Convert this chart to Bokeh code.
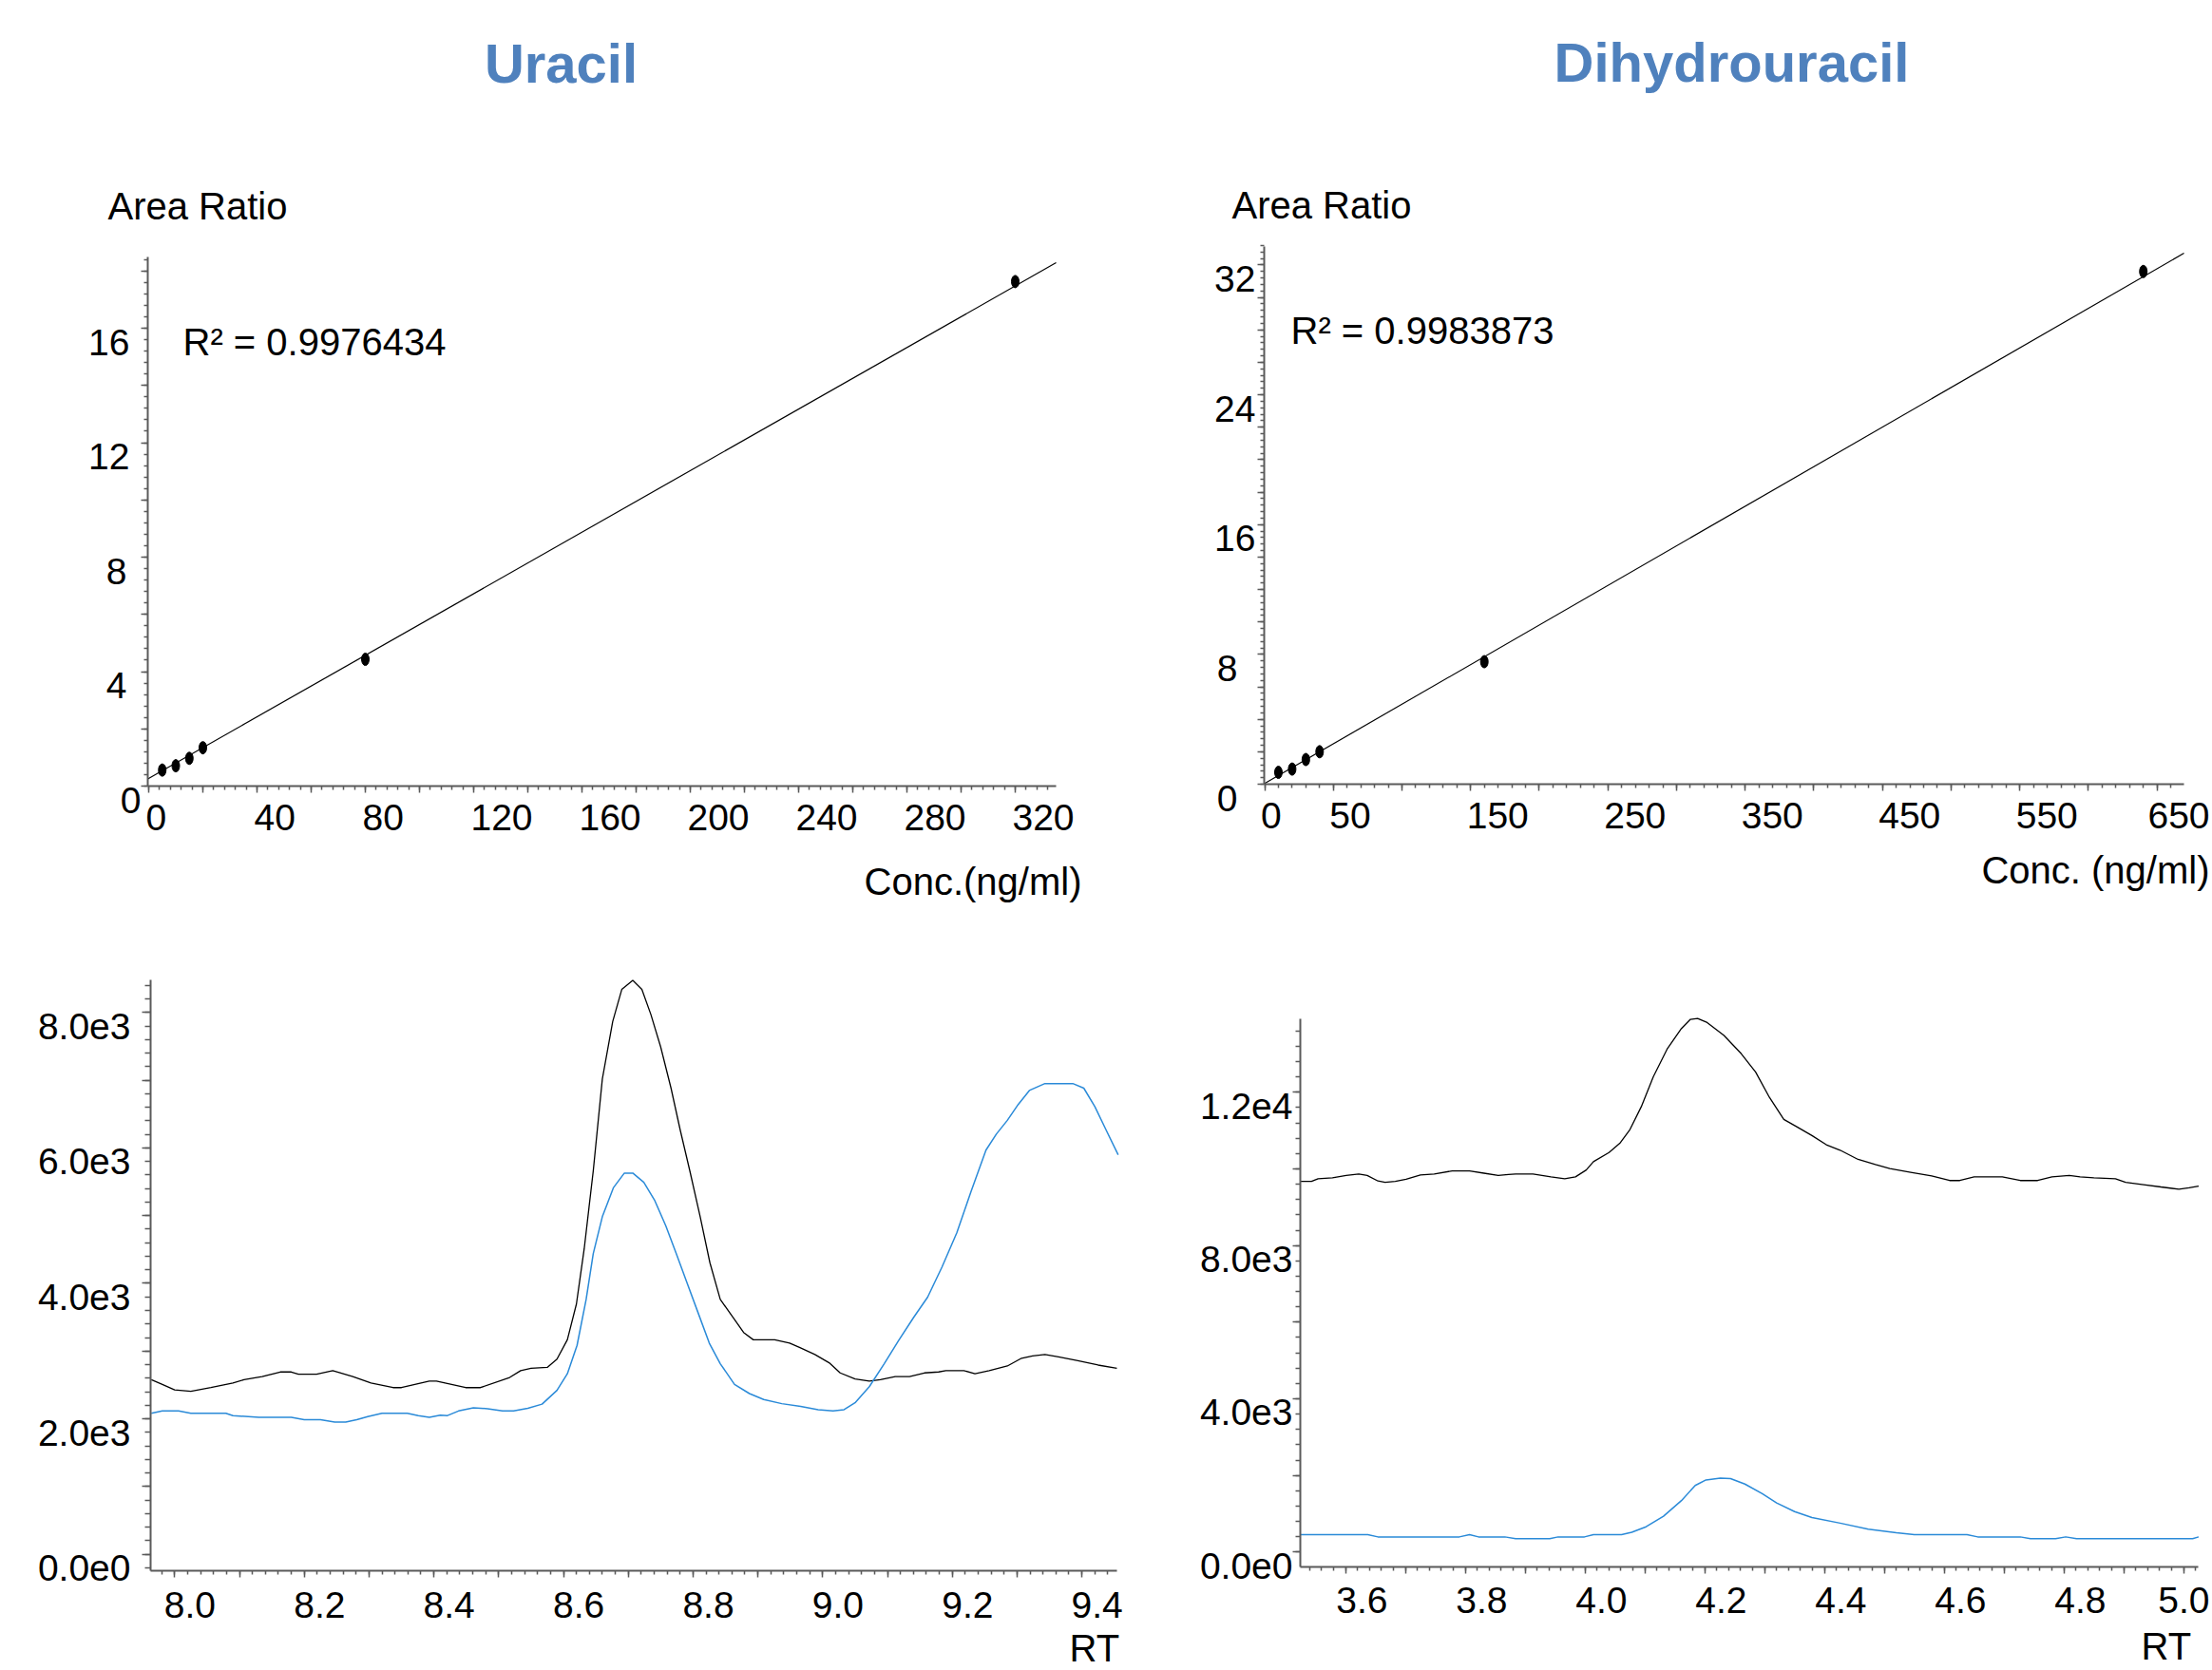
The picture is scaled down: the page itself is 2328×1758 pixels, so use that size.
import numpy as np
from bokeh.plotting import figure
from bokeh.models import Range1d, FixedTicker, LabelSet, ColumnDataSource
from bokeh.layouts import column, row
from bokeh.core.properties import value
from bokeh.embed import file_html
from bokeh.resources import INLINE

FONT = "Liberation Sans"
TITLE_BLUE = "#4F81BD"
TRACE_BLUE = "#2a8ad8"
AXIS_C = "#5a5a5a"

# ---------------- data ----------------
uracil_conc = [5, 10, 15, 20, 80, 320]
uracil_ratio = [0.56, 0.71, 0.97, 1.34, 4.43, 17.63]
uracil_slope, uracil_intercept = 0.05377, 0.27
uracil_r2 = "R² = 0.9976434"

dhu_conc = [10, 20, 30, 40, 160, 640]
dhu_ratio = [0.73, 0.93, 1.52, 2.00, 7.55, 31.6]
dhu_slope, dhu_intercept = 0.0488, 0.05
dhu_r2 = "R² = 0.9983873"

ura_conc_ticks = [0, 40, 80, 120, 160, 200, 240, 280, 320]
ura_ratio_ticks = [0, 4, 8, 12, 16]
dhu_conc_ticks = [0, 50, 150, 250, 350, 450, 550, 650]
dhu_ratio_ticks = [0, 8, 16, 24, 32]

ura_rt_ticks = [8.0, 8.2, 8.4, 8.6, 8.8, 9.0, 9.2, 9.4]
ura_int_ticks = [0, 2000, 4000, 6000, 8000]
ura_int_labels = ["0.0e0", "2.0e3", "4.0e3", "6.0e3", "8.0e3"]
dhu_rt_ticks = [3.6, 3.8, 4.0, 4.2, 4.4, 4.6, 4.8, 5.0]
dhu_int_ticks = [0, 4000, 8000, 12000]
dhu_int_labels = ["0.0e0", "4.0e3", "8.0e3", "1.2e4"]

# Uracil chromatogram (black trace and blue trace)
ura_black_rt = [7.964, 7.981, 8.000, 8.025, 8.056, 8.090, 8.107, 8.135, 8.163, 8.180,
                8.191, 8.219, 8.244, 8.275, 8.303, 8.337, 8.350, 8.393, 8.404, 8.449,
                8.472, 8.517, 8.534, 8.550, 8.575, 8.590, 8.606, 8.620, 8.632, 8.646,
                8.660, 8.676, 8.690, 8.707, 8.721, 8.735, 8.750, 8.766, 8.780, 8.795,
                8.811, 8.826, 8.842, 8.862, 8.878, 8.893, 8.926, 8.949, 8.965, 8.988,
                9.010, 9.027, 9.050, 9.072, 9.089, 9.112, 9.134, 9.157, 9.179, 9.190,
                9.218, 9.235, 9.257, 9.285, 9.307, 9.324, 9.343, 9.364, 9.392, 9.425,
                9.454]
ura_black_int = [2577, 2509, 2427, 2407, 2461, 2529, 2577, 2624, 2692, 2692,
                 2658, 2658, 2712, 2624, 2529, 2461, 2461, 2556, 2556, 2461,
                 2461, 2611, 2712, 2746, 2760, 2882, 3167, 3695, 4509, 5662,
                 7018, 7865, 8340, 8475, 8340, 7967, 7492, 6882, 6272, 5662,
                 4984, 4305, 3763, 3492, 3275, 3167, 3167, 3119, 3051, 2950,
                 2828, 2678, 2590, 2556, 2577, 2624, 2624, 2678, 2692, 2712,
                 2712, 2665, 2712, 2780, 2895, 2929, 2950, 2916, 2862, 2794,
                 2746]
ura_blue_rt = [7.964, 7.981, 8.006, 8.025, 8.079, 8.090, 8.130, 8.180, 8.200, 8.225,
               8.247, 8.264, 8.281, 8.298, 8.320, 8.359, 8.376, 8.393, 8.410, 8.421,
               8.438, 8.461, 8.483, 8.506, 8.523, 8.545, 8.567, 8.590, 8.606, 8.621,
               8.635, 8.646, 8.660, 8.677, 8.694, 8.707, 8.724, 8.741, 8.758, 8.774,
               8.791, 8.808, 8.825, 8.842, 8.864, 8.887, 8.909, 8.937, 8.966, 8.993,
               9.016, 9.033, 9.050, 9.072, 9.095, 9.117, 9.140, 9.162, 9.184, 9.207,
               9.229, 9.252, 9.268, 9.285, 9.302, 9.319, 9.343, 9.386, 9.403, 9.420,
               9.437, 9.456]
ura_blue_int = [2082, 2116, 2116, 2082, 2082, 2048, 2021, 2021, 1987, 1987,
                1953, 1953, 1987, 2034, 2082, 2082, 2048, 2021, 2055, 2048,
                2116, 2163, 2150, 2116, 2116, 2157, 2217, 2421, 2665, 3085,
                3763, 4441, 4984, 5411, 5628, 5628, 5492, 5221, 4848, 4441,
                4001, 3560, 3119, 2814, 2509, 2373, 2285, 2224, 2183, 2136,
                2116, 2136, 2238, 2475, 2814, 3153, 3492, 3797, 4238, 4746,
                5357, 5967, 6204, 6407, 6645, 6848, 6950, 6950, 6882, 6611,
                6272, 5899]

# Dihydrouracil chromatogram
dhu_black_rt = [3.525, 3.543, 3.554, 3.578, 3.601, 3.622, 3.636, 3.654, 3.666, 3.683,
                3.701, 3.725, 3.748, 3.778, 3.807, 3.831, 3.855, 3.872, 3.884, 3.913,
                3.943, 3.966, 3.984, 4.002, 4.014, 4.040, 4.058, 4.075, 4.094, 4.114,
                4.137, 4.161, 4.176, 4.188, 4.204, 4.232, 4.261, 4.285, 4.308, 4.332,
                4.355, 4.379, 4.403, 4.426, 4.456, 4.485, 4.509, 4.544, 4.579, 4.609,
                4.626, 4.650, 4.697, 4.727, 4.756, 4.780, 4.809, 4.827, 4.850, 4.886,
                4.903, 4.933, 4.962, 4.992, 5.009, 5.025]
dhu_black_int = [9673, 9673, 9745, 9769, 9829, 9865, 9829, 9685, 9649, 9673,
                 9733, 9841, 9865, 9949, 9949, 9889, 9829, 9853, 9865, 9865,
                 9793, 9745, 9793, 9973, 10189, 10429, 10669, 11028, 11627, 12407,
                 13126, 13665, 13905, 13929, 13821, 13485, 13006, 12526, 11867, 11292,
                 11088, 10872, 10632, 10489, 10249, 10117, 10009, 9913, 9817, 9697,
                 9697, 9793, 9793, 9697, 9697, 9793, 9829, 9793, 9769, 9745,
                 9649, 9589, 9529, 9470, 9505, 9553]
dhu_blue_rt = [3.525, 3.637, 3.654, 3.790, 3.807, 3.822, 3.866, 3.884, 3.941, 3.955,
               3.999, 4.014, 4.061, 4.078, 4.102, 4.131, 4.161, 4.184, 4.202, 4.226,
               4.243, 4.267, 4.296, 4.320, 4.350, 4.379, 4.426, 4.473, 4.520, 4.550,
               4.638, 4.656, 4.727, 4.744, 4.786, 4.803, 4.821, 5.015, 5.025]
dhu_blue_int = [455, 455, 395, 395, 455, 395, 395, 348, 348, 395,
                395, 455, 455, 515, 659, 935, 1342, 1738, 1882, 1930,
                1918, 1774, 1522, 1283, 1055, 899, 755, 599, 503, 455,
                455, 395, 395, 348, 348, 395, 348, 348, 395]

PAGE_W = 2328
TICK_SIZE = 39


def text_width(s, size):
    w = {".": 0.278, "e": 0.556}
    return sum(w.get(c, 0.556) for c in s) * size


# ---------------- panel helper ----------------
class Panel:
    """A figure whose frame covers (almost) its whole canvas; the visible
    axes are drawn at fixed data locations so that all texts stay inside."""

    def __init__(self, canvas, area, lims, border=20):
        cx0, cy0, cx1, cy1 = canvas
        self.L, self.R, self.T, self.B = area
        self.x0, self.x1, self.y0, self.y1 = lims
        self.sx = (self.R - self.L) / (self.x1 - self.x0)
        self.sy = (self.B - self.T) / (self.y1 - self.y0)
        fl, ft, fr, fb = cx0 + border, cy0 + border, cx1, cy1
        xr = (self.x0 - (self.L - fl) / self.sx, self.x1 + (fr - self.R) / self.sx)
        yr = (self.y0 - (fb - self.B) / self.sy, self.y1 + (self.T - ft) / self.sy)
        p = figure(width=cx1 - cx0, height=cy1 - cy0,
                   x_range=Range1d(*xr), y_range=Range1d(*yr),
                   x_axis_location="above", y_axis_location="left",
                   output_backend="svg", toolbar_location=None,
                   min_border_left=border, min_border_top=border,
                   min_border_right=0, min_border_bottom=0)
        p.outline_line_color = None
        p.xgrid.visible = False
        p.ygrid.visible = False
        p.background_fill_color = "white"
        p.border_fill_color = "white"
        self.p = p

    def x(self, px):
        return self.x0 + (px - self.L) / self.sx

    def y(self, py):
        return self.y0 + (self.B - py) / self.sy

    def px(self, x):
        return self.L + (x - self.x0) * self.sx

    def py(self, y):
        return self.B - (y - self.y0) * self.sy

    def labels(self, xs, ys, texts, size, align, color="black", style="normal"):
        src = ColumnDataSource(dict(x=xs, y=ys, text=texts))
        self.p.add_layout(LabelSet(x="x", y="y", text="text", source=src,
                                   text_font=value(FONT), text_font_size=value(f"{size}px"),
                                   text_font_style=value(style),
                                   text_align=align, text_baseline="alphabetic",
                                   text_color=color))

    def text(self, s, px, py, size=40, align="left", color="black", bold=False):
        self.labels([self.x(px)], [self.y(py)], [s], size, align, color,
                    "bold" if bold else "normal")

    def axes(self, xmaj, xmin, ymaj, ymin, xlen=(7, 4), ylen=(7, 4)):
        xa = self.p.xaxis[0]
        ya = self.p.yaxis[0]
        xa.fixed_location = self.y0
        xa.bounds = (self.x0, self.x1)
        ya.fixed_location = self.x0
        ya.bounds = (self.y0, self.y1)
        for ax, maj, mn in ((xa, xmaj, xmin), (ya, ymaj, ymin)):
            ax.ticker = FixedTicker(ticks=list(maj), minor_ticks=list(mn))
            ax.major_label_text_color = None
            ax.major_label_text_font_size = "1px"
            ax.major_label_standoff = 0
            ax.axis_line_color = AXIS_C
            ax.axis_line_width = 2
            ax.major_tick_line_color = AXIS_C
            ax.minor_tick_line_color = AXIS_C
            ax.major_tick_line_width = 1.5
            ax.minor_tick_line_width = 1.5
        # x axis lives in the "above" panel: its inward ticks point down
        xa.major_tick_out = 0
        xa.minor_tick_out = 0
        xa.major_tick_in = xlen[0]
        xa.minor_tick_in = xlen[1]
        ya.major_tick_in = 0
        ya.minor_tick_in = 0
        ya.major_tick_out = ylen[0]
        ya.minor_tick_out = ylen[1]

    def xlabels(self, vals, texts, dx, baseline):
        xs = []
        for v, t in zip(vals, texts):
            left = self.px(v) + dx
            left = min(left, PAGE_W - 3 - text_width(t, TICK_SIZE))
            xs.append(self.x(left))
        ys = [self.y(baseline)] * len(vals)
        self.labels(xs, ys, texts, TICK_SIZE, "left")

    def ylabels(self, vals, texts, dxs, drop=28):
        xs = [self.x(self.L + d) for d in dxs]
        ys = [self.y(self.py(v) + drop) for v in vals]
        self.labels(xs, ys, texts, TICK_SIZE, "right")


def steps(a, b, s):
    return [round(v, 4) for v in np.arange(a, b + s / 2, s)]


# ---------------- Uracil calibration ----------------
tl = Panel((0, 0, 1220, 980), (155, 1111, 270, 827), (-0.351, 335.09, 0.0, 18.49))
tl.axes(steps(0, 320, 20), steps(0, 332, 4), steps(0, 18, 2), steps(0, 18.4, 0.4))
tl.p.line([tl.x0, tl.x1],
          [uracil_intercept + uracil_slope * tl.x0, uracil_intercept + uracil_slope * tl.x1],
          line_color="black", line_width=1.2)
tl.p.ellipse(x=uracil_conc, y=uracil_ratio, width=8, height=13, width_units="screen",
             height_units="screen", fill_color="black", line_color="black")
tl.xlabels(ura_conc_ticks, [str(v) for v in ura_conc_ticks], -3, 873)
tl.ylabels(ura_ratio_ticks, [str(v) for v in ura_ratio_ticks],
           [-7 if v == 0 else (-22 if v < 10 else -19) for v in ura_ratio_ticks])
tl.text("Uracil", 590, 86, size=58, align="center", color=TITLE_BLUE, bold=True)
tl.text("Area Ratio", 113, 230)
tl.text(uracil_r2, 192, 373)
tl.text("Conc.(ng/ml)", 1138, 941, align="right")

# ---------------- Dihydrouracil calibration ----------------
tr = Panel((1220, 0, PAGE_W, 980), (1330, 2298, 259, 825), (-0.35, 669.6, 0.0, 33.14))
tr.axes(steps(0, 650, 50), steps(0, 660, 10), steps(0, 32, 2), steps(0, 33.2, 0.4))
tr.p.line([tr.x0, tr.x1],
          [dhu_intercept + dhu_slope * tr.x0, dhu_intercept + dhu_slope * tr.x1],
          line_color="black", line_width=1.2)
tr.p.ellipse(x=dhu_conc, y=dhu_ratio, width=8, height=13, width_units="screen",
             height_units="screen", fill_color="black", line_color="black")
tr.xlabels(dhu_conc_ticks, [str(v) for v in dhu_conc_ticks], -4, 871)
tr.ylabels(dhu_ratio_ticks, [str(v) for v in dhu_ratio_ticks],
           [-28 if v < 10 else -9 for v in dhu_ratio_ticks])
tr.text("Dihydrouracil", 1822, 85, size=58, align="center", color=TITLE_BLUE, bold=True)
tr.text("Area Ratio", 1296, 229)
tr.text(dhu_r2, 1358, 361)
tr.text("Conc. (ng/ml)", PAGE_W - 3, 929, align="right")

# ---------------- Uracil chromatogram ----------------
bl = Panel((0, 980, 1220, 1758), (158, 1175, 1031, 1653), (7.9629, 9.4541, -242.6, 8481.0))
bl.axes(steps(8.0, 9.4, 0.1), steps(7.98, 9.44, 0.02),
        steps(0, 8000, 1000), steps(-200, 8400, 200), xlen=(7, 4), ylen=(9, 6))
bl.p.line(ura_black_rt, ura_black_int, line_color="black", line_width=1.3)
bl.p.line(ura_blue_rt, ura_blue_int, line_color=TRACE_BLUE, line_width=1.5)
bl.xlabels(ura_rt_ticks, [f"{v:.1f}" for v in ura_rt_ticks], -11, 1702)
bl.ylabels(ura_int_ticks, ura_int_labels, [-21] * len(ura_int_ticks))
bl.text("RT", 1125, 1748)

# ---------------- Dihydrouracil chromatogram ----------------
br = Panel((1220, 980, PAGE_W, 1758), (1368, 2313, 1072, 1649), (3.5243, 5.0243, -389.0, 13918.0))
br.axes(steps(3.6, 5.0, 0.1), steps(3.54, 5.02, 0.02),
        steps(0, 12000, 2000), steps(0, 13600, 400), xlen=(7, 4), ylen=(8, 5))
br.p.line(dhu_black_rt, dhu_black_int, line_color="black", line_width=1.3)
br.p.line(dhu_blue_rt, dhu_blue_int, line_color=TRACE_BLUE, line_width=1.5)
br.xlabels(dhu_rt_ticks, [f"{v:.1f}" for v in dhu_rt_ticks], -10, 1697)
br.ylabels(dhu_int_ticks, dhu_int_labels, [-8] * len(dhu_int_ticks))
br.text("RT", 2253, 1746)

layout = column(row(tl.p, tr.p), row(bl.p, br.p))
open("out.html", "w").write(file_html(layout, INLINE))
